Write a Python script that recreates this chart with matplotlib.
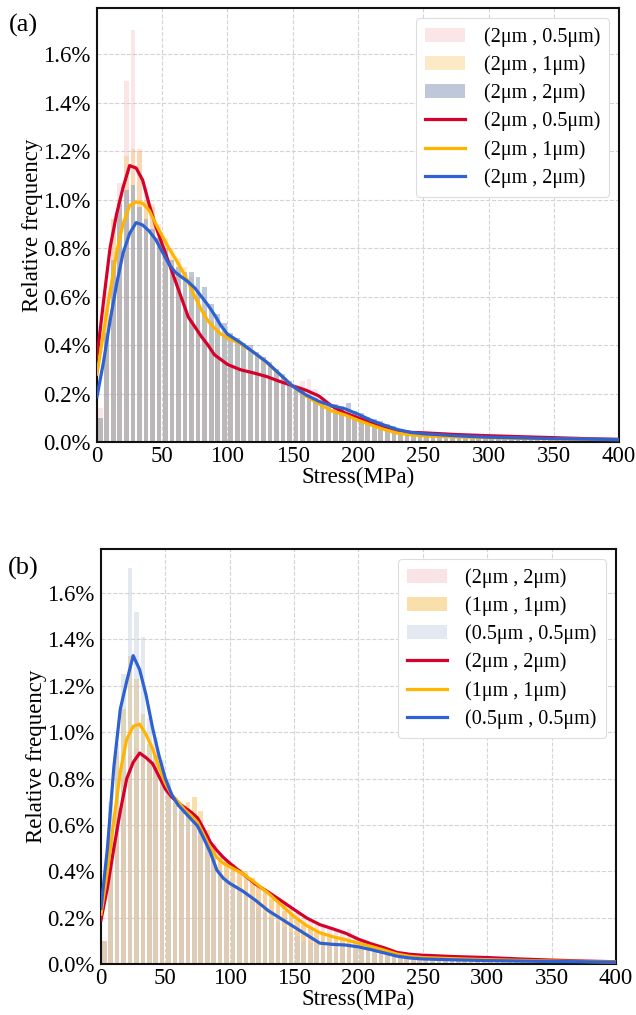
import numpy as np
import matplotlib
matplotlib.use("Agg")
import matplotlib.pyplot as plt
import matplotlib.ticker as mticker

plt.rcParams['font.family'] = ['Liberation Serif', 'DejaVu Serif']

# ----------------------------
# data (values in %)
# ----------------------------
bin_width = 5.0
bin_edges = np.arange(0, 400 + bin_width, bin_width)

# panel (a) histograms, one value per 5 MPa bin
a_hist_05 = [0.14, 0.62, 0.92, 1.07, 1.49, 1.70, 1.21, 1.05, 0.97, 0.84,
             0.76, 0.70, 0.62, 0.55, 0.50, 0.46, 0.42, 0.38, 0.35, 0.33,
             0.31, 0.30, 0.29, 0.29, 0.28, 0.27, 0.26, 0.25, 0.24, 0.23,
             0.23, 0.25, 0.26, 0.22, 0.17, 0.15, 0.14, 0.12, 0.11, 0.10,
             0.09, 0.08, 0.07, 0.065, 0.058, 0.05, 0.045, 0.042, 0.04, 0.038,
             0.037, 0.036, 0.035, 0.034, 0.033, 0.032, 0.031, 0.030, 0.029, 0.028,
             0.027, 0.026, 0.026, 0.025, 0.024, 0.023, 0.022, 0.021, 0.021, 0.020,
             0.019, 0.018, 0.017, 0.016, 0.016, 0.015, 0.014, 0.013, 0.012, 0.011]
a_hist_1 = [0.10, 0.55, 0.92, 1.00, 1.18, 1.21, 1.20, 1.00, 0.98, 0.90,
            0.84, 0.80, 0.76, 0.72, 0.68, 0.60, 0.54, 0.50, 0.46, 0.44,
            0.42, 0.41, 0.40, 0.38, 0.36, 0.35, 0.32, 0.30, 0.27, 0.24,
            0.22, 0.21, 0.19, 0.17, 0.155, 0.14, 0.13, 0.12, 0.115, 0.105,
            0.095, 0.085, 0.075, 0.065, 0.055, 0.045, 0.038, 0.032, 0.030, 0.028,
            0.026, 0.025, 0.024, 0.024, 0.023, 0.022, 0.022, 0.021, 0.021, 0.020,
            0.020, 0.019, 0.019, 0.018, 0.018, 0.017, 0.017, 0.016, 0.016, 0.015,
            0.015, 0.014, 0.014, 0.013, 0.013, 0.012, 0.012, 0.011, 0.011, 0.010]
a_hist_2 = [0.10, 0.45, 0.75, 0.98, 1.04, 1.06, 0.97, 0.92, 0.88, 0.84,
            0.80, 0.75, 0.72, 0.70, 0.70, 0.68, 0.64, 0.57, 0.53, 0.49,
            0.45, 0.43, 0.41, 0.40, 0.37, 0.35, 0.33, 0.30, 0.28, 0.25,
            0.23, 0.21, 0.19, 0.18, 0.17, 0.16, 0.155, 0.15, 0.16, 0.13,
            0.12, 0.105, 0.095, 0.085, 0.075, 0.065, 0.055, 0.048, 0.042, 0.038,
            0.035, 0.033, 0.031, 0.030, 0.029, 0.028, 0.027, 0.026, 0.025, 0.024,
            0.023, 0.022, 0.022, 0.021, 0.020, 0.020, 0.019, 0.018, 0.018, 0.017,
            0.016, 0.016, 0.015, 0.015, 0.014, 0.013, 0.013, 0.012, 0.012, 0.011]

# smoothed curves, shared stress grid
curve_x = [0, 5, 10, 15, 20, 25, 30, 35, 40, 45, 50, 55, 60, 65, 70, 75, 80, 85, 90, 95,
           100, 110, 120, 130, 140, 150, 160, 170, 180, 190, 200, 210, 220, 230, 240, 250,
           275, 300, 325, 350, 375, 400]
a_curve_05 = [0.35, 0.58, 0.80, 0.94, 1.05, 1.14, 1.13, 1.08, 0.98, 0.89, 0.815, 0.74, 0.665,
              0.59, 0.515, 0.475, 0.435, 0.40, 0.36, 0.34, 0.32, 0.298, 0.285, 0.27, 0.25,
              0.232, 0.214, 0.19, 0.148, 0.12, 0.10, 0.08, 0.063, 0.048, 0.04, 0.038,
              0.031, 0.026, 0.022, 0.018, 0.014, 0.011]
a_curve_1 = [0.28, 0.45, 0.62, 0.78, 0.90, 0.975, 0.99, 0.985, 0.955, 0.90, 0.85, 0.80, 0.757,
             0.71, 0.66, 0.60, 0.545, 0.50, 0.47, 0.445, 0.43, 0.405, 0.37, 0.328, 0.28,
             0.23, 0.19, 0.158, 0.128, 0.112, 0.09, 0.07, 0.052, 0.037, 0.03, 0.025,
             0.021, 0.018, 0.015, 0.013, 0.011, 0.01]
a_curve_2 = [0.187, 0.33, 0.50, 0.65, 0.78, 0.86, 0.905, 0.895, 0.87, 0.835, 0.785, 0.735, 0.70,
             0.68, 0.66, 0.635, 0.60, 0.565, 0.525, 0.48, 0.445, 0.41, 0.37, 0.33, 0.28,
             0.23, 0.195, 0.168, 0.15, 0.137, 0.115, 0.09, 0.07, 0.052, 0.04, 0.034,
             0.026, 0.02, 0.017, 0.014, 0.012, 0.01]

# panel (b) histograms
b_hist_2 = [0.10, 0.40, 0.62, 0.80, 0.90, 0.93, 0.90, 0.88, 0.85, 0.80,
            0.74, 0.70, 0.66, 0.64, 0.65, 0.62, 0.56, 0.52, 0.48, 0.45,
            0.43, 0.41, 0.39, 0.37, 0.34, 0.32, 0.30, 0.28, 0.26, 0.24,
            0.22, 0.20, 0.185, 0.17, 0.16, 0.15, 0.145, 0.14, 0.15, 0.12,
            0.105, 0.095, 0.085, 0.075, 0.065, 0.055, 0.048, 0.043, 0.040, 0.038,
            0.037, 0.036, 0.035, 0.034, 0.033, 0.032, 0.031, 0.030, 0.030, 0.029,
            0.028, 0.027, 0.026, 0.025, 0.024, 0.023, 0.022, 0.021, 0.020, 0.019,
            0.018, 0.017, 0.016, 0.015, 0.014, 0.013, 0.012, 0.012, 0.011, 0.010]
b_hist_1 = [0.10, 0.55, 0.92, 1.10, 1.33, 1.23, 1.08, 0.95, 0.90, 0.83,
            0.77, 0.70, 0.66, 0.70, 0.72, 0.66, 0.58, 0.50, 0.46, 0.44,
            0.43, 0.41, 0.40, 0.37, 0.34, 0.31, 0.28, 0.26, 0.23, 0.21,
            0.19, 0.17, 0.155, 0.14, 0.13, 0.12, 0.115, 0.11, 0.105, 0.10,
            0.09, 0.08, 0.07, 0.06, 0.05, 0.043, 0.037, 0.033, 0.030, 0.028,
            0.027, 0.026, 0.025, 0.024, 0.023, 0.022, 0.022, 0.021, 0.020, 0.020,
            0.019, 0.018, 0.018, 0.017, 0.017, 0.016, 0.016, 0.015, 0.015, 0.014,
            0.014, 0.013, 0.013, 0.012, 0.012, 0.011, 0.011, 0.010, 0.010, 0.009]
b_hist_05 = [0.10, 0.70, 0.95, 1.25, 1.71, 1.52, 1.41, 1.06, 0.98, 0.88,
             0.80, 0.72, 0.68, 0.66, 0.63, 0.60, 0.55, 0.48, 0.40, 0.36,
             0.34, 0.32, 0.30, 0.27, 0.24, 0.22, 0.20, 0.18, 0.16, 0.14,
             0.12, 0.10, 0.09, 0.085, 0.083, 0.082, 0.08, 0.08, 0.078, 0.074,
             0.068, 0.062, 0.055, 0.048, 0.04, 0.034, 0.03, 0.027, 0.024, 0.022,
             0.021, 0.020, 0.020, 0.019, 0.019, 0.018, 0.018, 0.017, 0.017, 0.016,
             0.016, 0.015, 0.015, 0.014, 0.014, 0.013, 0.013, 0.013, 0.012, 0.012,
             0.012, 0.011, 0.011, 0.011, 0.010, 0.010, 0.010, 0.009, 0.009, 0.008]

b_curve_2 = [0.19, 0.33, 0.50, 0.66, 0.80, 0.87, 0.91, 0.89, 0.865, 0.81, 0.755, 0.72, 0.695,
             0.675, 0.655, 0.63, 0.58, 0.525, 0.49, 0.46, 0.435, 0.39, 0.345, 0.31, 0.273,
             0.235, 0.198, 0.17, 0.152, 0.133, 0.107, 0.087, 0.07, 0.05, 0.042, 0.038,
             0.032, 0.028, 0.022, 0.017, 0.013, 0.01]
b_curve_1 = [0.215, 0.40, 0.62, 0.83, 0.97, 1.025, 1.035, 0.99, 0.93, 0.85, 0.78, 0.73, 0.70,
             0.665, 0.64, 0.61, 0.555, 0.50, 0.46, 0.435, 0.42, 0.39, 0.35, 0.305, 0.255,
             0.205, 0.165, 0.135, 0.118, 0.105, 0.09, 0.076, 0.06, 0.043, 0.033, 0.028,
             0.023, 0.019, 0.016, 0.013, 0.011, 0.009]
b_curve_05 = [0.24, 0.50, 0.85, 1.10, 1.22, 1.33, 1.27, 1.16, 1.02, 0.90, 0.80, 0.73, 0.685,
              0.655, 0.625, 0.595, 0.54, 0.48, 0.405, 0.37, 0.348, 0.315, 0.275, 0.23, 0.195,
              0.16, 0.125, 0.09, 0.085, 0.082, 0.074, 0.062, 0.048, 0.034, 0.026, 0.022,
              0.018, 0.015, 0.013, 0.011, 0.01, 0.008]

a_labels = ['(2μm , 0.5μm)', '(2μm , 1μm)', '(2μm , 2μm)']
b_labels = ['(2μm , 2μm)', '(1μm , 1μm)', '(0.5μm , 0.5μm)']

# ----------------------------
# style
# ----------------------------
line_colors = ['#d5002c', '#ffb400', '#2e62d2']
a_bar_colors = [('#f7a3aa', 0.28), ('#f5b030', 0.28), ('#8fa1bd', 0.58)]
b_bar_colors = [('#ec8c9a', 0.24), ('#f5c055', 0.50), ('#b9c6dc', 0.40)]
tick_fs = 16.5
label_fs = 16.5
legend_fs = 14.5


def draw_panel(ax, hists, curves, labels, bar_styles):
    centers = (bin_edges[:-1] + bin_edges[1:]) / 2.0
    bar_handles, line_handles = [], []
    for vals, lab, (c, a) in zip(hists, labels, bar_styles):
        b = ax.bar(centers, vals, width=bin_width * 0.72, color=c, alpha=a,
                   edgecolor='none', label=lab, zorder=2)
        bar_handles.append(b)
    for vals, lab, c in zip(curves, labels, line_colors):
        ln, = ax.plot(curve_x, vals, color=c, lw=2.3, label=lab, zorder=3)
        line_handles.append(ln)

    ax.set_xlim(0, 400)
    ax.set_ylim(0, 1.79)
    ax.set_xticks(np.arange(0, 401, 50))
    ax.set_yticks(np.arange(0, 1.61, 0.2))
    ax.yaxis.set_major_formatter(mticker.PercentFormatter(xmax=100, decimals=1))
    ax.tick_params(labelsize=tick_fs, length=0)
    ax.tick_params(axis='y', pad=4.5)
    ax.tick_params(axis='x', pad=2.5)
    ax.grid(True, linestyle='--', color='#d4d4d4', linewidth=0.8, zorder=0)
    ax.set_axisbelow(True)
    for s in ax.spines.values():
        s.set_linewidth(1.5)
        s.set_color('#111111')
    ax.set_xlabel('Stress(MPa)', fontsize=label_fs, labelpad=0.5)
    ax.set_ylabel('Relative frequency', fontsize=label_fs, labelpad=0)
    handles = bar_handles + line_handles
    leg = ax.legend(handles, labels + labels, loc='upper right', fontsize=legend_fs,
                    labelspacing=0.42, handlelength=2.0, handletextpad=0.9,
                    borderpad=0.45, fancybox=True, framealpha=1.0, edgecolor='#dddddd')
    leg.get_frame().set_linewidth(0.8)


fig = plt.figure(figsize=(6.36, 10.15), dpi=100)
ax_a = fig.add_axes([0.1525, 0.5645, 0.8208, 0.4276])
ax_b = fig.add_axes([0.1588, 0.0502, 0.8097, 0.4089])

draw_panel(ax_a, [a_hist_05, a_hist_1, a_hist_2], [a_curve_05, a_curve_1, a_curve_2],
           a_labels, a_bar_colors)
draw_panel(ax_b, [b_hist_2, b_hist_1, b_hist_05], [b_curve_2, b_curve_1, b_curve_05],
           b_labels, b_bar_colors)

fig.text(23 / 636, 1 - 25 / 1015, '(a)', fontsize=19, ha='center', va='center')
fig.text(23 / 636, 1 - 568 / 1015, '(b)', fontsize=19, ha='center', va='center')

fig.savefig('out.png', dpi=100)
